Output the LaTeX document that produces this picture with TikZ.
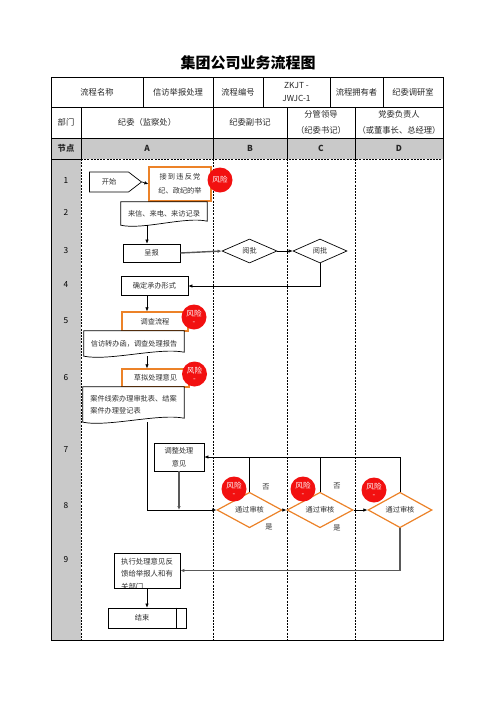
\documentclass[tikz,border=0pt]{standalone}
\usepackage{fontspec}
\setmainfont{Noto Sans CJK SC}
\usetikzlibrary{arrows.meta,calc,shapes.geometric,shapes.symbols}
\definecolor{riskred}{HTML}{F21010}
\definecolor{lineorange}{HTML}{EC8228}
\definecolor{headgray}{HTML}{C9C9C9}
\definecolor{txtgray}{HTML}{303030}

\begin{document}
\begin{tikzpicture}[x=1pt,y=-1pt,>={Latex[length=4pt,width=3.5pt]},
 font=\fontsize{7.2}{12}\selectfont,text=txtgray,
 cell/.style={font=\fontsize{8.3}{14}\selectfont,align=center,text=black!85},
 headcell/.style={font=\fontsize{8.3}{14}\selectfont\bfseries,text=black!85},
 box/.style={draw,line width=0.7pt,fill=white,inner sep=1pt,align=center},
 riskbox/.style={box,draw=lineorange,line width=1.2pt},
 doc/.style={fill=white,inner sep=1pt,align=left},
 check/.style={diamond,draw,line width=0.7pt,fill=white,inner sep=0pt},
 riskcheck/.style={check,draw=lineorange,line width=1.2pt},
 risk/.style={circle,fill=riskred,text=white,minimum size=25pt,inner sep=0pt,align=center,font=\fontsize{7.6}{8}\selectfont},
 flow/.style={->,line width=0.6pt},
 heavy/.style={->,line width=1.4pt,draw=black!65},
 lane/.style={dash pattern=on 2pt off 1.2pt,line width=0.6pt}]
\useasboundingbox (0,0) rectangle (496,702);

% title and header table
\node[font=\fontsize{15}{15}\selectfont\bfseries,text=black] (title) at (248,63) {集团公司业务流程图};
\fill[headgray] (51,138) rectangle (443,159);
\fill[headgray] (51,159) rectangle (81,640);
\draw[line width=0.7pt] (51,107) -- (443,107) (51,138) -- (443,138) (51,159) -- (81,159);
\draw[lane] (81,159) -- (443,159);
\draw[line width=0.7pt] (143,77) -- (143,107) (263,77) -- (263,107) (330,77) -- (330,107) (383,77) -- (383,107)
 (213,77) -- (213,159) (81,107) -- (81,159) (287,107) -- (287,159) (355,107) -- (355,159);
\draw[lane] (81,159) -- (81,640) (213,159) -- (213,640) (287,159) -- (287,640) (355,159) -- (355,640);
\draw[line width=1pt] (51,77) rectangle (443,640);

\node[cell] (name) at (97,92) {流程名称};
\node[cell] (namev) at (178,92) {信访举报处理};
\node[cell] (code) at (238,92) {流程编号};
\node[cell,font=\fontsize{8.3}{13}\selectfont] (codev) at (296.5,92) {ZKJT -\\JWJC-1};
\node[cell] (owner) at (356.5,92) {流程拥有者};
\node[cell] (ownerv) at (413,92) {纪委调研室};
\node[cell] (dept) at (66,122.5) {部门};
\node[cell] (deptA) at (147,122.5) {纪委（监察处）};
\node[cell] (deptB) at (250,122.5) {纪委副书记};
\node[cell,font=\fontsize{8.3}{16}\selectfont] (deptC) at (321,122.5) {分管领导\\（纪委书记）};
\node[cell,font=\fontsize{8.3}{16}\selectfont] (deptD) at (399,122.5) {党委负责人\\（或董事长、总经理）};
\node[headcell] (node) at (66,148.5) {节点};
\node[headcell] (laneA) at (147,148.5) {A};
\node[headcell] (laneB) at (250,148.5) {B};
\node[headcell] (laneC) at (321,148.5) {C};
\node[headcell] (laneD) at (399,148.5) {D};
\foreach \n/\y in {1/181,2/212,3/251,4/285,5/321,6/378,7/450,8/506,9/560}
 \node[font=\fontsize{8.3}{10}\selectfont,text=black] (row\n) at (66,\y) {\n};

% flow nodes
\coordinate (axisA) at (147,0);
\node[signal,signal to=east,signal pointer angle=75,draw,line width=0.7pt,minimum width=52pt,minimum height=20pt,inner sep=0pt] (start) at (109,182) {开始};
\node[riskbox,minimum width=62pt,minimum height=34pt,font=\fontsize{7.2}{14}\selectfont] (receive) at (180,184) {接\,到\,违\,反\,党\\纪、政纪的举};
\node[risk] (risk1) at (220,180) {风险};
\node[doc,minimum width=86pt,minimum height=23pt] (letter) at (164,213.5) {来信、来电、来访记录};
\node[box,minimum width=57pt,minimum height=18pt] (submit) at (151.5,253) {呈报};
\node[check,minimum width=55pt,minimum height=24pt] (review1) at (249.5,251) {阅批};
\node[check,minimum width=54pt,minimum height=24pt] (review2) at (320,251) {阅批};
\node[box,minimum width=67pt,minimum height=19pt] (decide) at (154.5,286) {确定承办形式};
\node[riskbox,minimum width=66pt,minimum height=19pt] (probe) at (155,321.5) {调查流程};
\node[risk] (risk2) at (194,317) {风险\\-};
\node[doc,minimum width=100pt,minimum height=25pt] (probedoc) at (134,343.5) {信访转办函，调查处理报告};
\node[riskbox,minimum width=67pt,minimum height=18pt] (draft) at (155.5,378) {草拟处理意见};
\node[risk] (risk3) at (194.5,374) {风险\\-};
\node[doc,minimum width=101pt,minimum height=35pt] (form) at (133.5,404.5) {案件线索办理审批表、结案\\案件办理登记表};
\node[box,minimum width=50pt,minimum height=28pt,font=\fontsize{7.2}{13}\selectfont] (adjust) at (179,457) {调整处理\\意见};
\node[riskcheck,minimum width=65pt,minimum height=31pt] (audit1) at (249.5,510) {通过审核};
\node[riskcheck,minimum width=66pt,minimum height=31pt] (audit2) at (320,510) {通过审核};
\node[riskcheck,minimum width=64pt,minimum height=31pt] (audit3) at (400,510) {通过审核};
\node[risk] (risk4) at (234,489) {风险\\-};
\node[risk] (risk5) at (303,489) {风险\\-};
\node[risk] (risk6) at (374,490) {风险\\-};
\node (no1) at (266,487) {否};
\node (yes1) at (269,527) {是};
\node (no2) at (337,486) {否};
\node (yes2) at (337,528) {是};
\node[box,minimum width=66pt,minimum height=35pt,
 path picture={\node[draw=none,fill=none,align=left,font=\fontsize{7.4}{12.5}\selectfont] at ([yshift=-3.5pt]path picture bounding box.center) {执行处理意见反\\馈给举报人和有\\关部门};}] (execute) at (147,570.5) {};
\node[box,minimum width=78pt,minimum height=20pt] (finish) at (147,618) {结束\hspace{10pt}};
\draw[line width=0.7pt] ([xshift=-10pt]finish.north east) -- ([xshift=-10pt]finish.south east);

% document outlines
\foreach \d in {letter,probedoc,form}
 \draw[line width=0.7pt] (\d.north west) -- (\d.north east) -- ($(\d.south east)+(0,-4)$)
 .. controls ($(\d.south east)!0.5!(\d.south)+(0,-9)$) and ($(\d.south west)!0.5!(\d.south)+(0,5)$) .. (\d.south west) -- cycle;

% connectors
\draw[flow] (start.east) -- (receive.west);
\draw[flow] (letter.south -| axisA) -- (submit.north -| axisA);
\draw[heavy] (submit.east) -- (review1.west);
\draw[flow] (review1.east) -- (review2.west);
\draw[flow] (review2.south) |- (decide.east);
\draw[flow] (decide.south -| axisA) -- (probe.north -| axisA);
\draw[flow] (probedoc.south -| axisA) -- (draft.north -| axisA);
\draw[flow] (form.south -| axisA) |- (audit1.west);
\draw[heavy] (adjust.south) -- (adjust.south |- audit1.west);
\draw[flow] (audit1.east) -- (audit2.west);
\draw[flow] (audit2.east) -- (audit3.west);
\draw[flow] (audit3.north) |- (adjust.east);
\draw[line width=0.6pt] (audit1.north) -- (audit1.north |- adjust.east);
\draw[line width=0.6pt] (audit2.north) -- (audit2.north |- adjust.east);
\draw[heavy] (audit3.south) |- (execute.east);
\draw[flow] (execute.south) -- (finish.north);
\end{tikzpicture}
\end{document}
